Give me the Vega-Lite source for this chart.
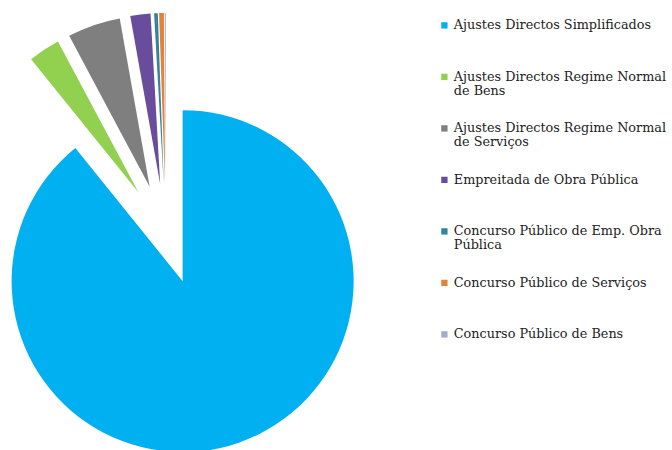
{
  "$schema": "https://vega.github.io/schema/vega-lite/v6.json",
  "width": 332,
  "height": 468,
  "padding": 0,
  "autosize": {"type": "pad"},
  "background": "white",
  "view": {"stroke": null},
  "config": {"style": {"guide-label": {"lineHeight": 14}}},
  "data": {
    "values": [
      {"categoria": "Ajustes Directos Simplificados", "valor": 89.2, "ordem": 1},
      {"categoria": "Ajustes Directos Regime Normal de Bens", "valor": 3.0, "ordem": 2},
      {"categoria": "Ajustes Directos Regime Normal de Serviços", "valor": 5.0, "ordem": 3},
      {"categoria": "Empreitada de Obra Pública", "valor": 1.9, "ordem": 4},
      {"categoria": "Concurso Público de Emp. Obra Pública", "valor": 0.35, "ordem": 5},
      {"categoria": "Concurso Público de Serviços", "valor": 0.45, "ordem": 6},
      {"categoria": "Concurso Público de Bens", "valor": 0.1, "ordem": 7}
    ]
  },
  "mark": {
    "type": "arc",
    "outerRadius": 171,
    "xOffset": {"expr": "50*sin((scale('theta', datum.valor_start)+scale('theta', datum.valor_end))/2)"},
    "yOffset": {"expr": "-50*cos((scale('theta', datum.valor_start)+scale('theta', datum.valor_end))/2)"}
  },
  "encoding": {
    "theta": {"field": "valor", "type": "quantitative", "stack": true},
    "order": {"field": "ordem", "type": "quantitative", "sort": "ascending"},
    "color": {
      "field": "categoria",
      "type": "nominal",
      "scale": {
        "domain": [
          "Ajustes Directos Simplificados",
          "Ajustes Directos Regime Normal de Bens",
          "Ajustes Directos Regime Normal de Serviços",
          "Empreitada de Obra Pública",
          "Concurso Público de Emp. Obra Pública",
          "Concurso Público de Serviços",
          "Concurso Público de Bens"
        ],
        "range": ["#00B0F0", "#92D050", "#7F7F7F", "#6A4C9C", "#31859C", "#E5823A", "#A3AAD2"]
      },
      "legend": {
        "title": null,
        "orient": "none",
        "legendX": 438,
        "legendY": 19,
        "padding": 0,
        "gridAlign": "all",
        "symbolType": "square",
        "symbolSize": 40,
        "symbolStrokeWidth": 0,
        "labelFont": "DejaVu Serif",
        "labelFontSize": 12.8,
        "labelColor": "#222222",
        "labelLimit": 260,
        "labelOffset": 3,
        "rowPadding": 23.5,
        "labelExpr": "datum.label == 'Ajustes Directos Regime Normal de Bens' ? ['Ajustes Directos Regime Normal', 'de Bens'] : datum.label == 'Ajustes Directos Regime Normal de Serviços' ? ['Ajustes Directos Regime Normal', 'de Serviços'] : datum.label == 'Concurso Público de Emp. Obra Pública' ? ['Concurso Público de Emp. Obra', 'Pública'] : datum.label"
      }
    }
  }
}
